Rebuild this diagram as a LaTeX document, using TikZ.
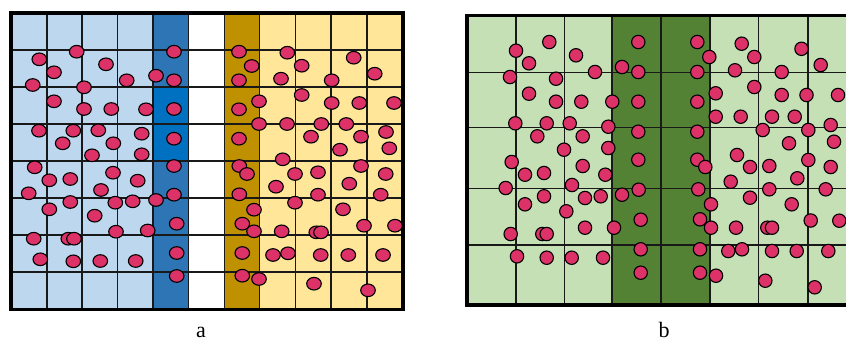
\documentclass[tikz,border=0pt]{standalone}
\usepackage{fontspec}
\setmainfont{Liberation Serif}
\definecolor{lblue}{HTML}{BDD7EE}
\definecolor{mblue}{HTML}{2E75B6}
\definecolor{bblue}{HTML}{0070C0}
\definecolor{goldc}{HTML}{BF9000}
\definecolor{lyellow}{HTML}{FFE699}
\definecolor{lgreen}{HTML}{C5E0B4}
\definecolor{dgreen}{HTML}{548235}
\definecolor{dotc}{HTML}{DC3268}
\begin{document}
\begin{tikzpicture}[x=1pt,y=-1pt,
  dot/.style={draw=black, line width=1.1pt, fill=dotc},
  gridline/.style={line width=1.6pt, draw=black!90},
  frameline/.style={line width=3.2pt, draw=black},
  lbl/.style={font=\fontsize{22}{26}\selectfont, anchor=base, inner sep=0pt}]
\useasboundingbox (0,0) rectangle (846,341);
\clip (0,0) rectangle (846,341);
% ---------------- panel a ----------------
\fill[lblue] (11,13) rectangle (153,309.5);
\fill[mblue] (153,13) rectangle (188.5,309.5);
\fill[bblue] (153,87) rectangle (188.5,161);
\fill[white] (188.5,13) rectangle (224.3,309.5);
\fill[goldc] (224.3,13) rectangle (259.5,309.5);
\fill[lyellow] (259.5,13) rectangle (403,309.5);
\foreach \x in {46.7,82,117.5,153,188.5,224.3,259.5,295.3,331,366.7}
  \draw[gridline] (\x,13) -- (\x,309.5);
\foreach \y in {50,87,124,161,198,235,272}
  \draw[gridline] (11,\y) -- (403,\y);
\draw[frameline] (11,13) rectangle (403,309.5);
\foreach \px/\py in {39.3/59.3, 76.7/51.7, 54/72.3, 106/64.3, 32.7/85, 84/87.3, 126.7/80.3, 156/75.7, 174/51.7, 174/80.3,
  54/101.3, 84/109, 111.3/109, 146/109.3, 174/109, 39/130.7, 73.3/130.7, 98.3/130.3, 62.7/143.3, 113.3/143.3,
  141.7/133.7, 174/138.7, 92/155.3, 141.7/154.3,
  34.7/167.3, 49.3/180.3, 70.3/179, 113/172.7, 137.7/180.7, 28.7/193.3, 101/190, 70.3/202, 49.3/209.3, 115.3/202.7,
  132.7/201.3, 156/200, 174/194.7, 94.7/215.7, 174/166, 33.7/238.7, 68.3/238.7, 74/238.7, 116/231.7, 147.7/230.5,
  176.7/223.7, 40.3/259.3, 73.3/261.3, 100.3/261, 135.7/261, 176.7/253, 176.7/276,
  239/51.7, 251.7/66, 239/80.3, 239/109.3, 259/101.3, 259/124, 287/124, 239/138.7, 287.3/52.7, 281/78.7,
  301.7/65.7, 301.7/95, 353.7/57.7, 331.7/80.3, 374.7/73.7, 331.7/103, 359.3/103, 394/103, 321.3/124, 346.3/124,
  311/136.7, 361/136.7, 386/132, 389.3/148.3, 340/149.7, 282.7/159.3,
  239.3/166, 247/174, 295/174, 276/186.7, 239.3/194.3, 254/209.7, 295/202.7, 242.3/223.7, 254/231.3, 281.7/231.3,
  242.3/253, 273/255, 288/253.3, 242.3/275.7, 259/279,
  318/172.3, 361/166, 349.3/183.7, 385.7/174, 318/194.7, 380.7/194.7, 343/209.3, 364/225.7, 395/225.7, 316.3/232.3,
  321/232.3, 320.7/255, 348.3/255, 383/255, 314/283.7, 368/290.3}
  \filldraw[dot] (\px,\py) ellipse [x radius=7.3pt, y radius=6.3pt];
\node[lbl] (la) at (201,337) {a};
% ---------------- panel b ----------------
\fill[lgreen] (467,15.5) rectangle (611.7,305);
\fill[dgreen] (611.7,15.5) rectangle (710,305);
\fill[lgreen] (710,15.5) rectangle (857,305);
\foreach \x in {515.7,564.3,611.7,660.7,710,758.3,808}
  \draw[gridline] (\x,15.5) -- (\x,305);
\foreach \y in {72.5,127.5,188.5,245}
  \draw[gridline] (467,\y) -- (857,\y);
\draw[frameline] (467,15.5) rectangle (857,305);
\foreach \px/\py in {516/50.7, 549.3/42, 529/63.3, 576/55.3, 510/77, 556/78.7, 595/72, 622/67, 638.3/42, 638.3/72,
  529/93.7, 556/101.7, 581.3/101.7, 612.3/101.7, 638.3/101.7, 515.3/123.3, 546.7/123.3, 569.7/123.3, 608.3/126.7, 638.3/131.7,
  537.3/136.3, 582.7/136.3, 564/149.7, 608.3/148, 638.3/159.7, 511.7/162, 525/174.7, 544/173, 582.7/166, 605.3/174.7,
  505.7/188, 572/185, 544/196.3, 525/204.3, 585/198, 600.7/196.3, 622/194.7, 638.7/189.7, 566.3/211.3, 640.7/219.7,
  510.7/234, 542.3/234, 546.7/234, 585/227.7, 614/227.7, 640.7/249.3, 517/256.3, 546.7/257.7, 571.7/257.7, 603/257.7,
  640.7/272.7,
  697.3/42, 709.3/57, 697.3/72, 697.3/101.7, 715.7/93.3, 715.7/116.7, 740.7/116.7, 772/116.7, 794.7/116.7, 741.7/43.7,
  754.3/57, 735/70.3, 781.7/72, 801.5/48.8, 820.7/65, 754.3/87, 781.7/95, 806.5/95, 838/95, 697.3/131.7,
  762.7/130, 808.3/130, 830.7/125, 789/143.3, 834/141.7, 697.3/159.7, 705.3/167, 737/155, 750/167, 769.3/166,
  808.3/160, 830.7/167, 698.3/189.3, 730.7/181.7, 797.3/178.3, 769.3/189.3, 825.7/189.3, 711/204.3, 750/197.7, 791.7/204.3,
  700/219.3, 711/227.7, 736/227.7, 767.3/227.7, 772/227.7, 810.7/220.5, 839.3/220.7, 700/249.3, 728.3/251, 742/249.3,
  772/251, 796.7/251, 828.3/251, 700/272.7, 716/275.7, 765.3/280.7, 814.7/287.3}
  \filldraw[dot] (\px,\py) circle [radius=6.7pt];
\node[lbl] (lb) at (664,337) {b};
\end{tikzpicture}
\end{document}
